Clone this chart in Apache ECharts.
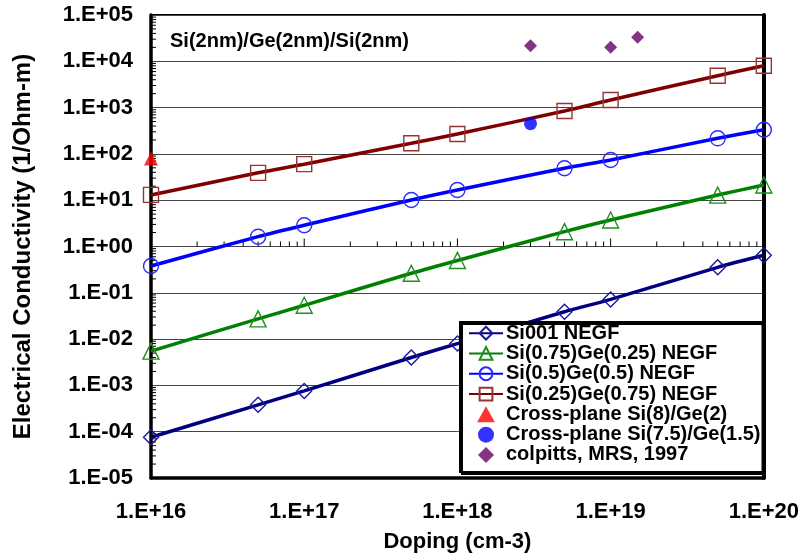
<!DOCTYPE html>
<html>
<head>
<meta charset="utf-8">
<title>Electrical conductivity vs doping</title>
<script src="https://cdn.jsdelivr.net/npm/echarts@6/dist/echarts.min.js"></script>
<style>
  html, body { margin: 0; padding: 0; background: #fff; }
  #chart { width: 802px; height: 558px; }
</style>
</head>
<body>
<div id="chart"></div>
<script>
// Doping levels (cm-3) for the NEGF calculations
const doping = [1e16, 5e16, 1e17, 5e17, 1e18, 5e18, 1e19, 5e19, 1e20];

// Conductivity (1/Ohm-m) for each material
const si001      = [7.6e-5, 3.8e-4, 7.6e-4, 4.0e-3, 8.0e-3, 0.039, 0.072, 0.355, 0.645];
const si75ge25   = [0.0055, 0.0274, 0.0537, 0.264, 0.50, 2.09, 3.73, 12.9, 21.3];
const si50ge50   = [0.38, 1.63, 2.87, 10.1, 16.6, 49, 74, 217, 333];
const si25ge75   = [13, 39, 60, 170, 269, 845, 1460, 4890, 8030];

// Reference points
const crossPlane8_2   = [[1e16, 80]];
const crossPlane75_15 = [[3e18, 450]];
const colpitts        = [[3e18, 21700], [1e19, 20000], [1.5e19, 33000]];

// Axis tick labels
const xTickLabels = ['1.E+16', '1.E+17', '1.E+18', '1.E+19', '1.E+20'];
const yTickLabels = ['1.E-05', '1.E-04', '1.E-03', '1.E-02', '1.E-01', '1.E+00',
                     '1.E+01', '1.E+02', '1.E+03', '1.E+04', '1.E+05'];
const xMinExp = 16, yMinExp = -5;

// Decades and sub-decade steps used for the minor tick marks
const xDecades = [1e16, 1e17, 1e18, 1e19];
const yDecades = [1e-5, 1e-4, 1e-3, 1e-2, 1e-1, 1, 1e1, 1e2, 1e3, 1e4];
const minorSteps = [2, 3, 4, 5, 6, 7, 8, 9];

const FONT = '"Liberation Sans", Arial, Helvetica, sans-serif';

// Square-proportioned legend icons for the marker-only entries
const ICON_TRIANGLE = 'path://M5,0L10,9L0,9Z';
const ICON_DIAMOND = 'path://M5,0L10,5L5,10L0,5Z';
const ICON_CIRCLE = 'circle';

function pairs(xs, ys) { return xs.map((x, i) => [x, ys[i]]); }

// Ticks along the 1E+00 line (x axis crossing)
const xTickMarks = [];
xDecades.forEach((d, i) => {
  if (i > 0) xTickMarks.push([d, 1, 1]);
  minorSteps.forEach(m => xTickMarks.push([m * d, 1, 0]));
});
// Minor ticks on the inside of the left axis
const yTickMarks = [];
yDecades.forEach(d => minorSteps.forEach(m => yTickMarks.push([1e16, m * d])));

function negf(name, data, lineColor, markColor, symbol, size) {
  return {
    type: 'line', name: name, data: pairs(doping, data),
    smooth: 0.25,
    symbol: symbol, symbolSize: size,
    showAllSymbol: true,
    lineStyle: { color: lineColor, width: 3.5 },
    itemStyle: { color: 'rgba(255,255,255,0)', borderColor: markColor, borderWidth: 1.4 },
    z: 3
  };
}

const labelFormatter = (labels, minExp) => v => labels[Math.round(Math.log10(v)) - minExp];

const chart = echarts.init(document.getElementById('chart'), null, { renderer: 'canvas' });

chart.setOption({
  animation: false,
  backgroundColor: '#fff',
  textStyle: { fontFamily: FONT },
  title: {
    text: 'Si(2nm)/Ge(2nm)/Si(2nm)',
    left: 170, top: 31, padding: 0,
    textStyle: { fontFamily: FONT, fontSize: 20, fontWeight: 'bold', color: '#000' }
  },
  grid: {
    left: 151, top: 15, right: 38, bottom: 80,
    show: true, backgroundColor: '#fff',
    borderColor: '#000', borderWidth: 2
  },
  xAxis: {
    type: 'log', logBase: 10, min: 1e16, max: 1e20, interval: 1,
    name: 'Doping (cm-3)', nameLocation: 'middle', nameGap: 53,
    nameTextStyle: { fontFamily: FONT, fontSize: 22, fontWeight: 'bold', color: '#000' },
    axisLine: { show: true, lineStyle: { color: '#000', width: 3.5 } },
    axisTick: { show: false },
    splitLine: { show: false },
    axisLabel: {
      margin: 23, fontFamily: FONT, fontSize: 22, fontWeight: 'bold', color: '#000',
      formatter: labelFormatter(xTickLabels, xMinExp)
    }
  },
  yAxis: [
    {
      type: 'log', logBase: 10, min: 1e-5, max: 1e5, interval: 1,
      name: 'Electrical Conductivity (1/Ohm-m)', nameLocation: 'middle', nameGap: 116,
      nameTextStyle: { fontFamily: FONT, fontSize: 24, fontWeight: 'bold', color: '#000' },
      axisLine: { show: true, lineStyle: { color: '#000', width: 3.5 } },
      axisTick: { show: false },
      splitLine: { show: true, lineStyle: { color: '#444', width: 1 } },
      axisLabel: {
        margin: 18, fontFamily: FONT, fontSize: 22, fontWeight: 'bold', color: '#000',
        formatter: labelFormatter(yTickLabels, yMinExp)
      }
    },
    {
      // heavier right-hand frame edge
      type: 'log', logBase: 10, min: 1e-5, max: 1e5, position: 'right',
      axisLine: { show: true, lineStyle: { color: '#000', width: 4 } },
      axisTick: { show: false }, axisLabel: { show: false }, splitLine: { show: false }
    }
  ],
  legend: {
    orient: 'vertical', left: 460, top: 322,
    padding: [1, 2, 7, 8],
    itemWidth: 34, itemHeight: 16, itemGap: 0,
    symbolKeepAspect: true,
    backgroundColor: '#fff', borderColor: '#000', borderWidth: 2,
    shadowColor: '#000', shadowBlur: 0, shadowOffsetX: 2, shadowOffsetY: 2,
    textStyle: { fontFamily: FONT, fontSize: 20, fontWeight: 'bold', color: '#000', lineHeight: 20.3, padding: [0, 0, 0, -2] },
    data: [
      'Si001 NEGF', 'Si(0.75)Ge(0.25) NEGF', 'Si(0.5)Ge(0.5) NEGF', 'Si(0.25)Ge(0.75) NEGF',
      { name: 'Cross-plane Si(8)/Ge(2)', icon: ICON_TRIANGLE },
      { name: 'Cross-plane Si(7.5)/Ge(1.5)', icon: ICON_CIRCLE },
      { name: 'colpitts, MRS, 1997', icon: ICON_DIAMOND }
    ]
  },
  series: [
    {
      type: 'custom', name: 'xticks', data: xTickMarks, silent: true, z: 1,
      encode: { x: 0, y: 1 },
      renderItem: (params, api) => {
        const p = api.coord([api.value(0), api.value(1)]);
        const len = api.value(2) ? 8 : 5;
        return { type: 'line', shape: { x1: p[0], y1: p[1], x2: p[0], y2: p[1] - len },
                 style: { stroke: '#000', lineWidth: 1 } };
      }
    },
    {
      type: 'custom', name: 'yticks', data: yTickMarks, silent: true, z: 1,
      encode: { x: 0, y: 1 },
      renderItem: (params, api) => {
        const p = api.coord([api.value(0), api.value(1)]);
        return { type: 'line', shape: { x1: p[0], y1: p[1], x2: p[0] + 5, y2: p[1] },
                 style: { stroke: '#000', lineWidth: 1 } };
      }
    },
    negf('Si001 NEGF', si001, '#000080', '#1a1a99', 'diamond', 15),
    negf('Si(0.75)Ge(0.25) NEGF', si75ge25, '#008000', '#1f8f1f', 'triangle', 16),
    negf('Si(0.5)Ge(0.5) NEGF', si50ge50, '#0000ff', '#2a2aff', 'circle', 15),
    negf('Si(0.25)Ge(0.75) NEGF', si25ge75, '#800000', '#993333', 'rect', 15),
    {
      type: 'scatter', name: 'Cross-plane Si(8)/Ge(2)', data: crossPlane8_2,
      symbol: 'triangle', symbolSize: 14,
      itemStyle: { color: '#ff0000' }, z: 4
    },
    {
      type: 'scatter', name: 'Cross-plane Si(7.5)/Ge(1.5)', data: crossPlane75_15,
      symbol: 'circle', symbolSize: 13,
      itemStyle: { color: '#0000ff' }, z: 4
    },
    {
      type: 'scatter', name: 'colpitts, MRS, 1997', data: colpitts,
      symbol: 'diamond', symbolSize: 13,
      itemStyle: { color: '#660066' }, z: 4
    }
  ]
});
</script>
</body>
</html>
